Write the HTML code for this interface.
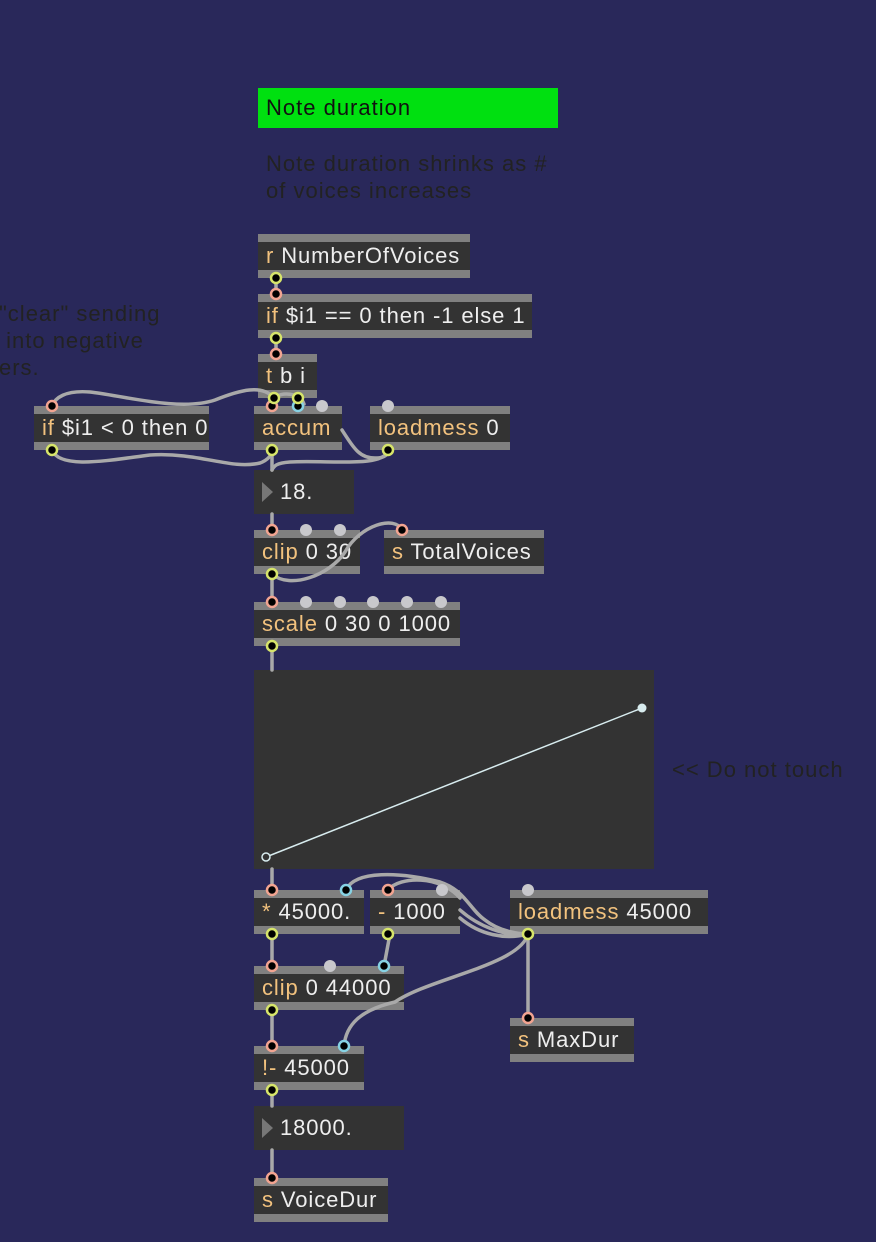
<!DOCTYPE html>
<html><head><meta charset="utf-8">
<style>
html,body{margin:0;padding:0}
body{width:876px;height:1242px;background:#29285a;position:relative;overflow:hidden;font-family:"Liberation Sans",Arial,sans-serif}
.b{position:absolute;height:44px;background:#333;box-sizing:border-box;border-top:8px solid #808080;border-bottom:8px solid #808080;color:#eee;font-size:22px;letter-spacing:0.9px;line-height:28px;padding-left:8px;white-space:nowrap;overflow:hidden}
.b i{font-style:normal;color:#f2c27e}
.n{position:absolute;height:44px;background:#333;color:#eee;font-size:22px;letter-spacing:0.9px;line-height:44px;padding-left:26px;box-sizing:border-box}
.n:before{content:"";position:absolute;left:8px;top:12px;border-left:11px solid #777;border-top:10px solid transparent;border-bottom:10px solid transparent}
.c{position:absolute;color:#222;font-size:22px;letter-spacing:1px;line-height:27px;white-space:nowrap}
svg{position:absolute;left:0;top:0}
</style></head><body>
<div style="position:absolute;left:258px;top:88px;width:300px;height:40px;background:#00e010;color:#111;font-size:22px;letter-spacing:1px;line-height:40px;padding-left:8px;box-sizing:border-box">Note duration</div>
<div class="c" style="left:266px;top:150px">Note duration shrinks as #<br>of voices increases</div>
<div class="c" style="left:-1px;top:300px">"clear" sending<br>&nbsp;into negative<br>ers.</div>
<div class="c" style="left:672px;top:756px">&lt;&lt; Do not touch</div>

<div class="b" style="left:258px;top:234px;width:212px"><i>r</i> NumberOfVoices</div>
<div class="b" style="left:258px;top:294px;width:274px"><i>if</i> $i1 == 0 then -1 else 1</div>
<div class="b" style="left:258px;top:354px;width:59px"><i>t</i> b i</div>
<div class="b" style="left:34px;top:406px;width:175px"><i>if</i> $i1 &lt; 0 then 0</div>
<div class="b" style="left:254px;top:406px;width:88px"><i>accum</i></div>
<div class="b" style="left:370px;top:406px;width:140px"><i>loadmess</i> 0</div>
<div class="n" style="left:254px;top:470px;width:100px">18.</div>
<div class="b" style="left:254px;top:530px;width:106px"><i>clip</i> 0 30</div>
<div class="b" style="left:384px;top:530px;width:160px"><i>s</i> TotalVoices</div>
<div class="b" style="left:254px;top:602px;width:206px"><i>scale</i> 0 30 0 1000</div>
<div style="position:absolute;left:254px;top:670px;width:400px;height:199px;background:#333"></div>
<div class="b" style="left:254px;top:890px;width:110px"><i>*</i> 45000.</div>
<div class="b" style="left:370px;top:890px;width:90px"><i>-</i> 1000</div>
<div class="b" style="left:510px;top:890px;width:198px"><i>loadmess</i> 45000</div>
<div class="b" style="left:254px;top:966px;width:150px"><i>clip</i> 0 44000</div>
<div class="b" style="left:510px;top:1018px;width:124px"><i>s</i> MaxDur</div>
<div class="b" style="left:254px;top:1046px;width:110px"><i>!-</i> 45000</div>
<div class="n" style="left:254px;top:1106px;width:150px">18000.</div>
<div class="b" style="left:254px;top:1178px;width:134px"><i>s</i> VoiceDur</div>

<svg width="876" height="1242" viewBox="0 0 876 1242">
<g fill="none" stroke="#a9a9a9" stroke-width="3.5" stroke-linecap="round">
<path d="M276,278 V294"/><path d="M276,338 V354"/>
<path d="M298,398 V406"/>
<path d="M274,398 C262,384 240,390 215,400 C180,412 120,395 90,392 C65,390 55,398 52,406"/>
<path d="M274,398 C280,392 300,392 304,404"/>
<path d="M274,398 L272,406"/>
<path d="M52,450 C60,470 110,460 150,455 C200,452 230,470 260,463 C268,460 272,455 272,450"/>
<path d="M272,450 V470"/>
<path d="M342,430 C355,450 360,458 375,458 C385,458 388,455 388,450"/>
<path d="M388,450 C385,468 330,460 290,462 C276,463 274,466 272,470"/>
<path d="M272,514 V530"/>
<path d="M272,574 V602"/>
<path d="M272,574 C290,590 330,575 345,552 C360,525 395,515 402,530"/>
<path d="M272,646 V670"/>
<path d="M272,869 V890"/>
<path d="M346,890 C355,870 400,872 440,882 C465,890 470,910 485,920 C500,932 520,934 528,934"/>
<path d="M388,890 C400,876 440,875 460,898"/>
<path d="M460,910 C478,926 505,937 528,934"/>
<path d="M460,918 C480,935 505,940 528,934"/>
<path d="M272,934 V966"/>
<path d="M390,934 C388,945 386,955 384,966"/>
<path d="M528,934 V1018"/>
<path d="M528,934 C520,965 430,978 395,1002 C360,1010 346,1025 344,1046"/>
<path d="M272,1010 V1046"/>
<path d="M272,1090 V1106"/>
<path d="M272,1150 V1178"/>
</g>
<line x1="266" y1="857" x2="642" y2="708" stroke="#d8ecef" stroke-width="1.5"/>
<circle cx="266" cy="857" r="4" fill="#333" stroke="#d8ecef" stroke-width="1.5"/>
<circle cx="642" cy="708" r="4.5" fill="#d8ecef"/>
<g>
<g fill="#c8c8cc">
<circle cx="322" cy="406" r="6"/><circle cx="388" cy="406" r="6"/>
<circle cx="306" cy="530" r="6"/><circle cx="340" cy="530" r="6"/>
<circle cx="306" cy="602" r="6"/><circle cx="340" cy="602" r="6"/><circle cx="373" cy="602" r="6"/><circle cx="407" cy="602" r="6"/><circle cx="441" cy="602" r="6"/>
<circle cx="442" cy="890" r="6"/><circle cx="528" cy="890" r="6"/><circle cx="330" cy="966" r="6"/>
</g>
<g fill="#000" stroke="#f2a491" stroke-width="2.5">
<circle cx="276" cy="294" r="5"/><circle cx="276" cy="354" r="5"/>
<circle cx="52" cy="406" r="5"/><circle cx="272" cy="406" r="5"/>
<circle cx="272" cy="530" r="5"/><circle cx="402" cy="530" r="5"/><circle cx="272" cy="602" r="5"/>
<circle cx="272" cy="890" r="5"/><circle cx="388" cy="890" r="5"/>
<circle cx="272" cy="966" r="5"/><circle cx="528" cy="1018" r="5"/>
<circle cx="272" cy="1046" r="5"/><circle cx="272" cy="1178" r="5"/>
</g>
<g fill="#000" stroke="#86d2e4" stroke-width="2.5">
<circle cx="298" cy="406" r="5"/><circle cx="346" cy="890" r="5"/>
<circle cx="384" cy="966" r="5"/><circle cx="344" cy="1046" r="5"/>
</g>
<g fill="#000" stroke="#d6e46a" stroke-width="2.5">
<circle cx="276" cy="278" r="5"/><circle cx="276" cy="338" r="5"/>
<circle cx="274" cy="398" r="5"/><circle cx="298" cy="398" r="5"/>
<circle cx="52" cy="450" r="5"/><circle cx="272" cy="450" r="5"/><circle cx="388" cy="450" r="5"/>
<circle cx="272" cy="574" r="5"/><circle cx="272" cy="646" r="5"/>
<circle cx="272" cy="934" r="5"/><circle cx="388" cy="934" r="5"/><circle cx="528" cy="934" r="5"/>
<circle cx="272" cy="1010" r="5"/><circle cx="272" cy="1090" r="5"/>
</g>
</g>
</svg>
</body></html>
